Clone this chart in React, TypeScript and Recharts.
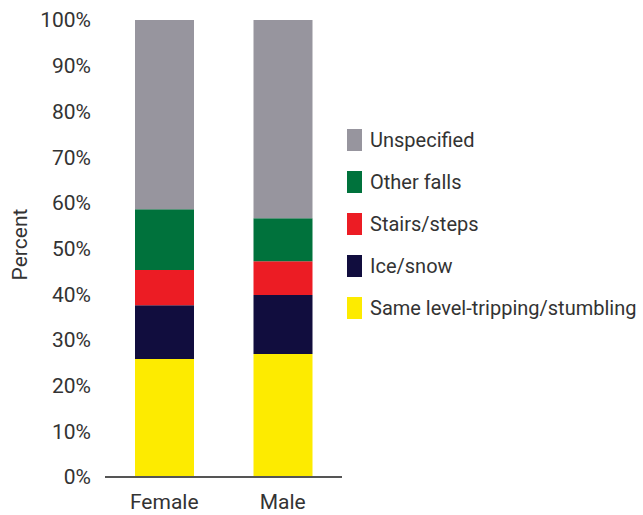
import { BarChart, Bar, XAxis, YAxis } from 'recharts'

const groups = ['Female', 'Male']
const sameLevel = [25.8, 26.9]
const iceSnow = [11.8, 12.9]
const stairs = [7.7, 7.4]
const otherFalls = [13.3, 9.4]
const unspecified = [41.4, 43.4]
const yTicks = [0, 10, 20, 30, 40, 50, 60, 70, 80, 90, 100]

const series = [
  { key: 'same', name: 'Same level-tripping/stumbling', values: sameLevel, color: '#fdeb00' },
  { key: 'ice', name: 'Ice/snow', values: iceSnow, color: '#110d3e' },
  { key: 'stairs', name: 'Stairs/steps', values: stairs, color: '#ec1c24' },
  { key: 'other', name: 'Other falls', values: otherFalls, color: '#00723c' },
  { key: 'unspec', name: 'Unspecified', values: unspecified, color: '#97959e' },
]

const data = groups.map((g, i) => {
  const row: Record<string, string | number> = { group: g }
  series.forEach((s) => { row[s.key] = s.values[i] })
  return row
})

const font = 'Roboto, sans-serif'

function PercentLabel({ viewBox }: any) {
  const x = viewBox.x + 20
  const y = viewBox.y + viewBox.height / 2 - 4
  return (
    <text x={x} y={y} transform={`rotate(-90 ${x} ${y})`} textAnchor="middle" dominantBaseline="central"
      fill="#333" fontSize={21} fontFamily={font}>Percent</text>
  )
}

export default function App() {
  return (
    <div style={{ position: 'absolute', left: 0, top: 0, width: 643, height: 515, background: '#fff', fontFamily: font }}>
      <BarChart width={643} height={515} data={data} margin={{ top: 20, right: 301, bottom: 0, left: 0 }} barCategoryGap={30}>
        <XAxis dataKey="group" height={38} axisLine={{ stroke: '#555', strokeWidth: 2 }} tickLine={false} tickMargin={11}
          tick={{ fill: '#333', fontSize: 21, fontFamily: font }} />
        <YAxis width={105} domain={[0, 100]} ticks={yTicks} axisLine={false} tickLine={false} tickMargin={8}
          tickFormatter={(v) => `${v}%`} tick={{ fill: '#333', fontSize: 21, fontFamily: font }}
          label={<PercentLabel />} />
        {series.map((s) => (
          <Bar key={s.key} dataKey={s.key} name={s.name} stackId="a" fill={s.color} isAnimationActive={false} />
        ))}
      </BarChart>
      <div style={{ position: 'absolute', left: 347, top: 119 }}>
        {[...series].reverse().map((s) => (
          <div key={s.key} style={{ display: 'flex', alignItems: 'center', height: 42 }}>
            <div style={{ width: 15, height: 22, background: s.color, marginRight: 8 }} />
            <span style={{ fontSize: 20, color: '#333', whiteSpace: 'nowrap', lineHeight: '22px' }}>{s.name}</span>
          </div>
        ))}
      </div>
    </div>
  )
}
